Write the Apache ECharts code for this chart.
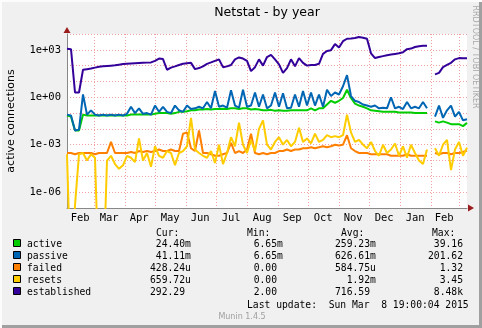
<!DOCTYPE html>
<html><head><meta charset="utf-8">
<script src="https://cdn.jsdelivr.net/npm/echarts@6/dist/echarts.min.js"></script>
<style>html,body{margin:0;padding:0;background:#f0f0f0}#c{width:482px;height:328px}</style>
</head><body><div id="c"></div>
<script>
const chartTitle = 'Netstat - by year';
const yAxisName = 'active connections';
const sideText = 'RRDTOOL / TOBI OETIKER';
const seriesNames = ['active', 'passive', 'failed', 'resets', 'established'];
const seriesColors = ['#00cc00', '#0066b3', '#ff8000', '#ffcc00', '#330099'];

// one sample every 4 days starting at the left edge of the graph
const startDate = '2014-02-01T19:00:00Z';
const endDate = '2015-03-08T19:00:00Z';
const stepDays = 4;

const active = [
  0.07, 0.06, 0.008, 0.008, 0.08, 0.07, 0.07, 0.07, 0.07, 0.07,
  0.07, 0.07, 0.07, 0.07, 0.07, 0.07, 0.08, 0.08, 0.08, 0.08,
  0.08, 0.08, 0.09, 0.1, 0.1, 0.1, 0.09, 0.1, 0.12, 0.12,
  0.13, 0.15, 0.15, 0.17, 0.17, 0.18, 0.17, 0.18, 0.18, 0.19,
  0.18, 0.2, 0.2, 0.18, 0.2, 0.2, 0.17, 0.18, 0.17, 0.15,
  0.15, 0.16, 0.14, 0.15, 0.14, 0.14, 0.15, 0.15, 0.15, 0.15,
  0.15, 0.2, 0.15, 0.2, 0.2, 0.35, 0.6, 0.45, 0.6, 0.9,
  3, 0.9, 0.4, 0.3, 0.25, 0.2, 0.15, 0.14, 0.13, 0.12,
  0.12, 0.12, 0.12, 0.11, 0.11, 0.11, 0.11, 0.1, 0.1, 0.1,
  0.1, null, 0.03, 0.025, 0.03, 0.025, 0.02, 0.02, 0.02, 0.015,
  0.024
];
const passive = [
  0.08, 0.07, 0.008, 0.009, 1.5, 0.08, 0.15, 0.08, 0.07, 0.08,
  0.07, 0.08, 0.07, 0.08, 0.07, 0.09, 0.25, 0.1, 0.2, 0.09,
  0.1, 0.08, 0.3, 0.12, 0.25, 0.12, 0.1, 0.3, 0.15, 0.12,
  0.3, 0.18, 0.2, 0.25, 0.2, 0.5, 0.2, 2.5, 0.25, 0.3,
  0.22, 2.8, 0.3, 0.22, 3, 0.25, 0.3, 2, 0.25, 1.5,
  0.2, 0.3, 2, 0.25, 1.8, 0.2, 0.22, 1.5, 0.25, 2.5,
  0.3, 2, 0.3, 1.5, 0.25, 3, 1.2, 2, 1.5, 5,
  25, 1.2, 0.6, 0.5, 0.35, 0.3, 0.25, 0.3, 0.2, 0.22,
  0.2, 1, 0.2, 0.25, 0.18, 0.5, 0.2, 0.25, 0.2, 0.5,
  0.2, null, 0.06, 0.3, 0.05, 0.15, 0.3, 0.06, 0.12, 0.035,
  0.041
];
const failed = [
  3e-4, 3e-4, 2.5e-4, 3e-4, 3e-4, 3e-4, 3e-4, 2.5e-4, 3e-4, 3e-4,
  3e-4, 1.5e-3, 3e-4, 3e-4, 3e-4, 3e-4, 3.5e-4, 3e-4, 4e-4, 3.5e-4,
  4e-4, 3.5e-4, 4e-4, 5e-4, 4e-4, 4e-4, 5e-4, 4e-4, 4e-4, 5e-3,
  6e-3, 6e-4, 4e-4, 8e-3, 3e-4, 3e-4, 2.5e-4, 2e-4, 2e-4, 2.5e-4,
  3e-4, 1.3e-3, 3e-4, 4e-4, 3e-4, 5e-4, 5e-3, 3e-4, 2.5e-4, 3e-4,
  2.5e-4, 3e-4, 3e-4, 4e-4, 4e-4, 5e-4, 4e-4, 5e-4, 5e-4, 6e-4,
  6e-4, 7e-4, 6e-4, 7e-4, 8e-4, 7e-4, 8e-4, 1e-3, 9e-4, 1e-3,
  4e-3, 6e-4, 4e-4, 3e-4, 3e-4, 3e-4, 2.5e-4, 2.5e-4, 2.5e-4, 2.5e-4,
  2.5e-4, 2e-4, 2e-4, 2e-4, 2e-4, 2.5e-4, 2e-4, 2e-4, 2e-4, 2e-4,
  2e-4, null, 3e-4, 2.5e-4, 3e-4, 3e-4, 2.5e-4, 3e-4, 3e-4, 3.5e-4,
  4.3e-4
];
const resets = [
  2.5e-4, 0, 1.5e-7, 2.5e-4, 3e-4, 1e-4, 2.5e-4, 1.5e-4, 0, 0,
  1e-4, 2e-4, 6e-5, 3e-5, 5e-5, 2e-4, 1.5e-4, 8e-5, 2.5e-3, 1e-4,
  3e-4, 4e-5, 8e-4, 2e-4, 1.5e-4, 4e-4, 3e-4, 5e-5, 3e-4, 4e-4,
  8e-4, 0.05, 5e-4, 3e-4, 2e-4, 1.5e-4, 4e-4, 7e-5, 1e-3, 6e-5,
  3e-4, 3e-3, 8e-4, 0.025, 1e-3, 3e-4, 2e-3, 4e-4, 0.01, 0.035,
  1e-3, 5e-4, 1.5e-3, 3e-3, 1e-3, 2e-3, 8e-4, 1.5e-3, 0.012, 1.5e-3,
  2.5e-3, 1.2e-3, 5e-3, 1.5e-3, 2e-3, 4e-3, 3e-3, 3.5e-3, 3e-3, 4e-3,
  0.08, 6e-3, 1.5e-3, 2e-3, 1e-3, 6e-4, 1.5e-3, 4e-4, 2e-4, 1e-3,
  3e-4, 5e-4, 1.2e-3, 2e-4, 8e-4, 1.5e-4, 1e-3, 3e-4, 1e-4, 6e-5,
  5e-4, null, 6e-4, 2e-4, 1e-3, 2e-3, 2.5e-5, 5e-4, 1.5e-3, 2e-4,
  6.6e-4
];
const established = [
  1150, 1100, 2, 2, 55, 60, 65, 75, 85, 90,
  95, 100, 105, 115, 125, 130, 135, 140, 145, 150,
  155, 160, 200, 280, 260, 55, 75, 90, 110, 130,
  140, 150, 60, 70, 90, 130, 160, 200, 250, 80,
  90, 110, 250, 330, 280, 200, 45, 80, 250, 100,
  350, 480, 250, 120, 35, 70, 250, 90, 300, 150,
  100, 110, 110, 130, 550, 850, 950, 2300, 1400, 3500,
  5000, 5200, 5600, 6500, 5800, 5000, 600, 300, 350, 400,
  450, 500, 550, 600, 700, 1100, 1200, 1500, 1700, 1800,
  1800, null, 28, 35, 80, 110, 150, 250, 300, 290,
  292
];

const monthLabels = ['Feb', 'Mar', 'Apr', 'May', 'Jun', 'Jul', 'Aug', 'Sep', 'Oct', 'Nov', 'Dec', 'Jan', 'Feb'];
const monthLabelDates = ['2014-02-15', '2014-03-16', '2014-04-15', '2014-05-16', '2014-06-15', '2014-07-16',
  '2014-08-16', '2014-09-15', '2014-10-16', '2014-11-15', '2014-12-16', '2015-01-16', '2015-02-14'];
const monthGridDates = ['2014-03-01', '2014-04-01', '2014-05-01', '2014-06-01', '2014-07-01', '2014-08-01',
  '2014-09-01', '2014-10-01', '2014-11-01', '2014-12-01', '2015-01-01', '2015-02-01', '2015-03-01'];
const yTickLabels = ['1e-06', '1e-03', '1e+00', '1e+03'];
const yTickValues = [1e-6, 1e-3, 1, 1e3];
const yGridValues = [1e-7, 1e-6, 1e-5, 1e-4, 1e-3, 1e-2, 1e-1, 1, 10, 100, 1e3, 1e4];
const yMin = 1e-7, yMax = 1e4;

const legendHeaders = ['Cur:', 'Min:', 'Avg:', 'Max:'];
const curVals = ['24.40m', '41.11m', '428.24u', '659.72u', '292.29'];
const minVals = ['6.65m', '6.65m', '0.00', '0.00', '2.00'];
const avgVals = ['259.23m', '626.61m', '584.75u', '1.92m', '716.59'];
const maxVals = ['39.16', '201.62', '1.32', '3.45', '8.48k'];
const lastUpdate = 'Last update:  Sun Mar  8 19:00:04 2015';
const versionText = 'Munin 1.4.5';

const allSeries = [active, passive, failed, resets, established];
const t0 = Date.parse(startDate), t1 = Date.parse(endDate);
const DAY = 86400000;
const ZERO_FLOOR = 1e-12; // zero is drawn below the bottom of a log axis, as rrdtool does
const labelMs = monthLabelDates.map(d => Date.parse(d));
const gridMs = monthGridDates.map(d => Date.parse(d));

const chart = echarts.init(document.getElementById('c'), null, {renderer: 'canvas'});
const MONO = 'DejaVu Sans Mono';
const SANS = 'DejaVu Sans';

const series = allSeries.map((vals, k) => ({
  name: seriesNames[k],
  type: 'line',
  showSymbol: false,
  connectNulls: false,
  animation: false,
  clip: true,
  lineStyle: {color: seriesColors[k], width: 2},
  itemStyle: {color: seriesColors[k]},
  z: 2 + k,
  data: vals.map((v, i) => [t0 + i * stepDays * DAY, v === 0 ? ZERO_FLOOR : v])
}));

// legend table below the plot
const G = [];
const rowY0 = 244, rowDY = 12, fs = 9.7;
function txt(x, y, s, align, extra) {
  G.push(Object.assign({type: 'text', x: x, y: y, silent: true,
    style: {text: s, font: fs + 'px "' + MONO + '"', fill: '#000', textAlign: align || 'left', textVerticalAlign: 'middle'}}, extra || {}));
}
function splitSuffix(s) {
  const m = s.match(/^([0-9.]+)([a-zA-Z]?)$/);
  return m ? [m[1], m[2]] : [s, ''];
}
const headerX = [156, 247, 341, 432];
legendHeaders.forEach((h, i) => txt(headerX[i], 233, h));
seriesNames.forEach((n, k) => {
  const y = rowY0 + k * rowDY;
  G.push({type: 'rect', shape: {x: 13.5, y: y - 4.5, width: 7, height: 7}, silent: true,
    style: {fill: seriesColors[k], stroke: '#000', lineWidth: 1}});
  txt(27, y, n);
  [[curVals, 185], [minVals, 277], [avgVals, 370]].forEach(([arr, xr]) => {
    const [num, suf] = splitSuffix(arr[k]);
    txt(xr, y, num, 'right');
    if (suf) txt(xr, y, suf, 'left');
  });
  txt(463, y, maxVals[k], 'right');
});
txt(247, 305, lastUpdate);
G.push({type: 'text', x: 242, y: 317, silent: true,
  style: {text: versionText, font: '8px "' + SANS + '"', fill: '#a0a0a0', textAlign: 'center', textVerticalAlign: 'middle'}});
// title
G.push({type: 'text', x: 267, y: 13, silent: true,
  style: {text: chartTitle, font: '12.5px "' + SANS + '"', fill: '#000', textAlign: 'center', textVerticalAlign: 'middle'}});
// vertical credit text at the right edge
G.push({type: 'text', x: 475, y: 57, rotation: -Math.PI / 2, silent: true,
  style: {text: sideText, font: '8px "' + SANS + '"', fill: '#a8a8a8', textAlign: 'center', textVerticalAlign: 'middle'}});
// frame
G.push({type: 'rect', shape: {x: 0, y: 325, width: 482, height: 3}, silent: true, style: {fill: '#a0a0a0'}});
G.push({type: 'rect', shape: {x: 479, y: 0, width: 3, height: 328}, silent: true, style: {fill: '#a0a0a0'}});
G.push({type: 'rect', shape: {x: 0, y: 0, width: 482, height: 2}, silent: true, style: {fill: '#fcfcfc'}});
G.push({type: 'rect', shape: {x: 0, y: 0, width: 2, height: 328}, silent: true, style: {fill: '#fcfcfc'}});

const option = {
  animation: false,
  backgroundColor: '#f0f0f0',
  grid: {left: 67, top: 34, width: 400, height: 174, containLabel: false, outerBoundsMode: 'none',
    show: true, backgroundColor: '#ffffff', borderWidth: 0},
  xAxis: {
    type: 'value', min: t0, max: t1,
    axisLine: {show: true, lineStyle: {color: '#888888', width: 1}},
    axisTick: {show: false, customValues: gridMs},
    splitLine: {show: true, lineStyle: {color: '#f2a0a0', type: [1, 2], width: 1}},
    axisLabel: {customValues: labelMs, margin: 5, color: '#000', fontFamily: MONO, fontSize: 10.5,
      formatter: v => { const i = labelMs.findIndex(m => Math.abs(m - v) < DAY); return i >= 0 ? monthLabels[i] : ''; }}
  },
  yAxis: {
    type: 'log', logBase: 10, min: yMin, max: yMax,
    name: yAxisName, nameLocation: 'middle', nameGap: 50,
    nameTextStyle: {fontFamily: SANS, fontSize: 11, color: '#000'},
    axisLine: {show: true, lineStyle: {color: '#888888', width: 1}},
    axisTick: {show: false, customValues: yGridValues},
    splitLine: {show: true, lineStyle: {color: '#f2a0a0', type: [1, 2], width: 1}},
    axisLabel: {customValues: yTickValues, margin: 6, color: '#000', fontFamily: MONO, fontSize: 10.5,
      formatter: v => { const i = yTickValues.findIndex(t => Math.abs(Math.log10(t) - Math.log10(v)) < 0.01); return i >= 0 ? yTickLabels[i] : ''; }}
  },
  series: series,
  graphic: {elements: G}
};
chart.setOption(option);

// axis arrows placed from the grid's own coordinate system
const gx0 = chart.convertToPixel({gridIndex: 0}, [t0, yMax]);
const gx1 = chart.convertToPixel({gridIndex: 0}, [t1, yMin]);
chart.setOption({graphic: {elements: G.concat([
  {type: 'polygon', silent: true, shape: {points: [[gx0[0], gx0[1] - 7], [gx0[0] - 3.5, gx0[1] - 1], [gx0[0] + 3.5, gx0[1] - 1]]}, style: {fill: '#9b1c1c'}},
  {type: 'polygon', silent: true, shape: {points: [[gx1[0] + 7, gx1[1]], [gx1[0] + 1, gx1[1] - 3.5], [gx1[0] + 1, gx1[1] + 3.5]]}, style: {fill: '#9b1c1c'}}
])}});
</script></body></html>
